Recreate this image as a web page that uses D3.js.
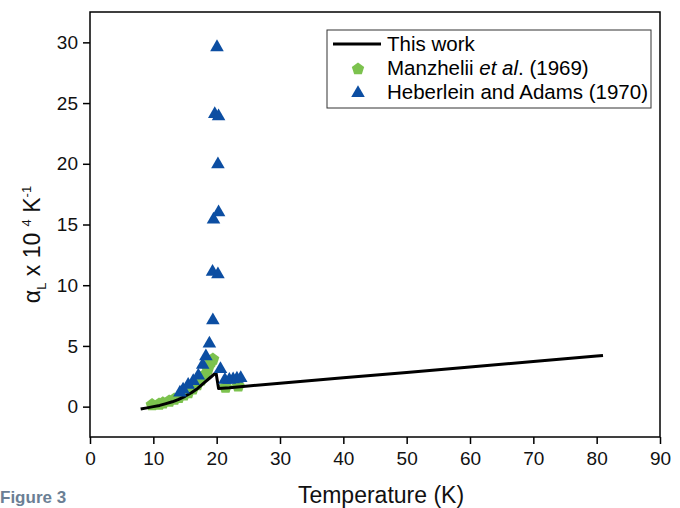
<!DOCTYPE html>
<meta charset="utf-8">
<html>
<script src="https://d3js.org/d3.v7.min.js"></script>
<style>
  body { margin: 0; background: #fff; }
  text { font-family: "Liberation Sans", Arial, sans-serif; }
</style>
<div id="chart"></div>
<script>

// "This work" curve (T in K, alpha x 1e4)
var workT = [8, 9, 10, 11, 12, 13, 14, 15, 16, 17, 18, 19, 19.9, 20.3, 22, 25, 30, 40, 50, 60, 70, 80, 81];
var workA = [-0.2, -0.1, 0.0, 0.1, 0.25, 0.4, 0.6, 0.85, 1.15, 1.5, 1.95, 2.4, 2.8, 1.5, 1.55, 1.7, 1.92, 2.37, 2.82, 3.27, 3.72, 4.17, 4.22];

// Manzhelii et al. (1969)
var manzT = [9.8, 10.9, 11.5, 12.5, 13.3, 14.0, 14.8, 15.5, 16.2, 16.9, 17.5, 18.1, 18.6, 19.1, 19.4, 21.4, 23.4];
var manzA = [0.15, 0.2, 0.3, 0.45, 0.6, 0.75, 0.95, 1.15, 1.45, 1.8, 2.2, 2.6, 3.1, 3.7, 3.9, 1.6, 1.7];

// Heberlein and Adams (1970)
var hebT = [14.2, 14.7, 15.5, 16.3, 17.1, 17.8, 18.3, 18.85, 19.4, 19.35, 20.2, 19.5, 20.3, 20.2, 19.7, 20.3, 20.05, 20.6, 21.3, 22.0, 22.6, 23.2, 23.8];
var hebA = [1.15, 1.4, 1.8, 2.1, 2.55, 3.45, 4.15, 5.2, 7.1, 11.1, 10.9, 15.4, 16.0, 19.95, 24.1, 23.9, 29.6, 3.1, 2.2, 2.2, 2.25, 2.3, 2.35];

var xTicks = [0, 10, 20, 30, 40, 50, 60, 70, 80, 90];
var yTicks = [0, 5, 10, 15, 20, 25, 30];

var width = 680, height = 508;
var margin = {left: 90, right: 20, top: 12, bottom: 71};

var svg = d3.select("#chart").append("svg")
    .attr("width", width)
    .attr("height", height);

var x = d3.scaleLinear().domain([0, 90]).range([margin.left, width - margin.right]);
var y = d3.scaleLinear().domain([-2.5, 32.5]).range([height - margin.bottom, margin.top]);

var blue = "#0c4ea2", green = "#7cc24e";

// frame
svg.append("rect")
    .attr("x", x(0)).attr("y", y(32.5))
    .attr("width", x(90) - x(0)).attr("height", y(-2.5) - y(32.5))
    .attr("fill", "none").attr("stroke", "#000").attr("stroke-width", 1.5);

// x axis, major + minor ticks
var xAxis = svg.append("g").attr("transform", "translate(0," + y(-2.5) + ")");
xAxis.call(d3.axisBottom(x).tickValues(d3.range(5, 90, 10)).tickSize(4).tickFormat(""));
xAxis.call(d3.axisBottom(x).tickValues(xTicks).tickSize(7).tickPadding(8).tickFormat(d3.format("d")));
xAxis.selectAll(".domain").remove();
xAxis.selectAll("line").attr("stroke-width", 1.5);
xAxis.selectAll("text").attr("font-size", 19).attr("fill", "#111");

var yAxis = svg.append("g").attr("transform", "translate(" + x(0) + ",0)");
yAxis.call(d3.axisLeft(y).tickValues([-2.5, 2.5, 7.5, 12.5, 17.5, 22.5, 27.5, 32.5]).tickSize(4).tickFormat(""));
yAxis.call(d3.axisLeft(y).tickValues(yTicks).tickSize(7).tickPadding(5).tickFormat(d3.format("d")));
yAxis.selectAll(".domain").remove();
yAxis.selectAll("line").attr("stroke-width", 1.5);
yAxis.selectAll("text").attr("font-size", 19).attr("fill", "#111");

// axis titles
svg.append("text")
    .attr("x", 381).attr("y", 503)
    .attr("text-anchor", "middle").attr("font-size", 23).attr("fill", "#111")
    .text("Temperature (K)");

var yl = svg.append("text")
    .attr("transform", "translate(40," + (y(15) + 20) + ") rotate(-90)")
    .attr("text-anchor", "middle").attr("font-size", 23).attr("fill", "#111");
yl.append("tspan").text("\u03b1");
yl.append("tspan").attr("font-size", 13).attr("dy", 6).text("L");
yl.append("tspan").attr("dy", -6).text(" x 10 ");
yl.append("tspan").attr("font-size", 13).attr("dy", -9).text("4");
yl.append("tspan").attr("dy", 9).text(" K");
yl.append("tspan").attr("font-size", 13).attr("dy", -9).text("-1");

// figure caption
svg.append("text")
    .attr("x", 0).attr("y", 503)
    .attr("font-family", "Open Sans, sans-serif")
    .attr("font-size", 17).attr("font-weight", "bold").attr("fill", "#6b7f95")
    .text("Figure 3");

// data
var tri = d3.symbol().type(d3.symbolTriangle).size(80);
function pentagon(r) {
  var pts = d3.range(5).map(function(i) {
    var a = -Math.PI / 2 + i * 2 * Math.PI / 5;
    return [r * Math.cos(a), r * Math.sin(a)];
  });
  return d3.line()(pts) + "Z";
}

svg.append("g").selectAll("path")
    .data(manzT.map(function(t, i) { return [t, manzA[i]]; }))
    .enter().append("path")
    .attr("d", pentagon(6.8))
    .attr("transform", function(d) { return "translate(" + x(d[0]) + "," + y(d[1]) + ")"; })
    .attr("fill", green);

svg.append("path")
    .datum(workT.map(function(t, i) { return [t, workA[i]]; }))
    .attr("d", d3.line().x(function(d) { return x(d[0]); }).y(function(d) { return y(d[1]); }))
    .attr("fill", "none").attr("stroke", "#000").attr("stroke-width", 3).attr("stroke-linejoin", "round");

svg.append("g").selectAll("path")
    .data(hebT.map(function(t, i) { return [t, hebA[i]]; }))
    .enter().append("path")
    .attr("d", tri)
    .attr("transform", function(d) { return "translate(" + x(d[0]) + "," + y(d[1]) + ")"; })
    .attr("fill", blue);

// legend
var lg = svg.append("g").attr("transform", "translate(327,30)");
lg.append("rect").attr("width", 324).attr("height", 78)
    .attr("fill", "#fff").attr("stroke", "#333").attr("stroke-width", 1);
lg.append("line").attr("x1", 6).attr("x2", 54).attr("y1", 14).attr("y2", 14)
    .attr("stroke", "#000").attr("stroke-width", 3);
lg.append("path").attr("d", pentagon(6.5)).attr("transform", "translate(31,39)").attr("fill", green);
lg.append("path").attr("d", tri).attr("transform", "translate(31,63)").attr("fill", blue);
lg.append("text").attr("x", 60).attr("y", 21).attr("font-size", 20.5).text("This work");
var t2 = lg.append("text").attr("x", 60).attr("y", 45).attr("font-size", 20.5);
t2.append("tspan").text("Manzhelii ");
t2.append("tspan").attr("font-style", "italic").text("et al");
t2.append("tspan").text(". (1969)");
lg.append("text").attr("x", 60).attr("y", 69).attr("font-size", 20.5).text("Heberlein and Adams (1970)");

</script>
</html>
